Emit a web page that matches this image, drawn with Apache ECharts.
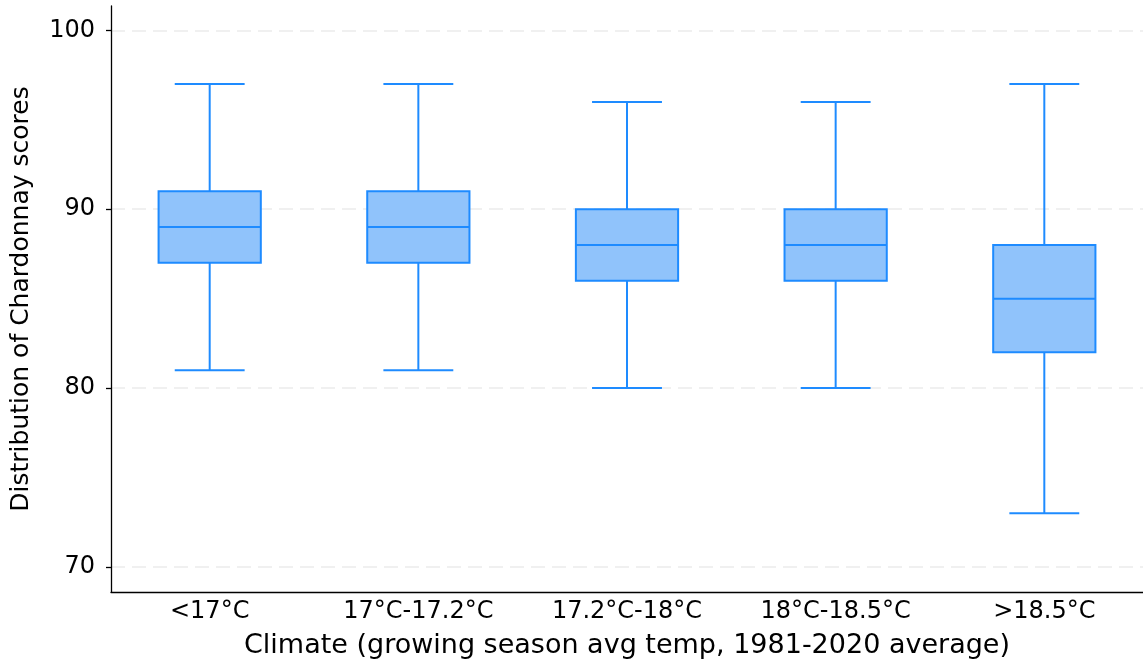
<!DOCTYPE html>
<html>
<head>
<meta charset="utf-8">
<script src="https://cdn.jsdelivr.net/npm/echarts@6/dist/echarts.min.js"></script>
<style>
  html, body { margin: 0; padding: 0; background: #ffffff; }
  #chart { width: 1143px; height: 665px; }
</style>
</head>
<body>
<div id="chart"></div>
<script>
// Climate bands (growing season average temperature)
const climates = ['<17°C', '17°C-17.2°C', '17.2°C-18°C', '18°C-18.5°C', '>18.5°C'];

// Box plot statistics per climate band
const whiskerLow  = [81, 81, 80, 80, 73];
const quartile1   = [87, 87, 86, 86, 82];
const medians     = [89, 89, 88, 88, 85];
const quartile3   = [91, 91, 90, 90, 88];
const whiskerHigh = [97, 97, 96, 96, 97];

// Score axis tick values
const scoreTicks = [70, 80, 90, 100];

const boxData = climates.map((c, i) => [i, whiskerLow[i], quartile1[i], medians[i], quartile3[i], whiskerHigh[i]]);

const STROKE = '#1e8bff';
const FILL = '#90c3fb';
const BOX_WIDTH = 0.49;
const CAP_WIDTH = 0.335;

function renderBox(params, api) {
  const i = api.value(0);
  const lo = api.coord([i, api.value(1)]);
  const q1 = api.coord([i, api.value(2)]);
  const md = api.coord([i, api.value(3)]);
  const q3 = api.coord([i, api.value(4)]);
  const hi = api.coord([i, api.value(5)]);
  const bw = api.size([BOX_WIDTH, 0])[0];
  const cw = api.size([CAP_WIDTH, 0])[0];
  const cx = lo[0];
  const lineStyle = { stroke: STROKE, lineWidth: 2, fill: null };
  return {
    type: 'group',
    children: [
      { type: 'line', shape: { x1: cx, y1: q1[1], x2: cx, y2: lo[1] }, style: lineStyle },
      { type: 'line', shape: { x1: cx, y1: q3[1], x2: cx, y2: hi[1] }, style: lineStyle },
      { type: 'line', shape: { x1: cx - cw / 2, y1: lo[1], x2: cx + cw / 2, y2: lo[1] }, style: lineStyle },
      { type: 'line', shape: { x1: cx - cw / 2, y1: hi[1], x2: cx + cw / 2, y2: hi[1] }, style: lineStyle },
      { type: 'rect', shape: { x: cx - bw / 2, y: q3[1], width: bw, height: q1[1] - q3[1] },
        style: { fill: FILL, stroke: STROKE, lineWidth: 2 } },
      { type: 'line', shape: { x1: cx - bw / 2, y1: md[1], x2: cx + bw / 2, y2: md[1] }, style: lineStyle }
    ]
  };
}

const chart = echarts.init(document.getElementById('chart'), null, { renderer: 'canvas' });

chart.setOption({
  animation: false,
  backgroundColor: '#ffffff',
  textStyle: { fontFamily: 'DejaVu Sans', color: '#000' },
  grid: { left: 111, right: 0, top: 6, bottom: 73, containLabel: false },
  xAxis: {
    type: 'value',
    min: -0.473,
    max: 4.473,
    name: 'Climate (growing season avg temp, 1981-2020 average)',
    nameLocation: 'middle',
    nameGap: 40,
    nameTextStyle: { fontSize: 27, color: '#000', fontFamily: 'DejaVu Sans' },
    axisLine: { show: true, onZero: false, lineStyle: { color: '#000', width: 1.3 } },
    axisTick: { show: false },
    splitLine: { show: false },
    axisLabel: {
      customValues: climates.map((c, i) => i),
      formatter: v => climates[Math.round(v)],
      fontSize: 24,
      color: '#000',
      margin: 8,
      fontFamily: 'DejaVu Sans'
    }
  },
  yAxis: {
    type: 'value',
    min: 68.6,
    max: 101.36,
    name: 'Distribution of Chardonnay scores',
    nameLocation: 'middle',
    nameRotate: 90,
    nameGap: 77,
    nameTextStyle: { fontSize: 25, color: '#000', fontFamily: 'DejaVu Sans' },
    axisLine: { show: true, onZero: false, lineStyle: { color: '#000', width: 1.3 } },
    axisTick: { show: true, customValues: scoreTicks, length: 5, inside: false, lineStyle: { color: '#000', width: 1.3 } },
    axisLabel: { customValues: scoreTicks, fontSize: 24, color: '#000', margin: 16, fontFamily: 'DejaVu Sans' },
    splitLine: { show: true, customValues: scoreTicks, lineStyle: { color: '#ebebeb', width: 1.5, type: [14, 7] } }
  },
  series: [{
    type: 'custom',
    renderItem: renderBox,
    encode: { x: 0, y: [1, 2, 3, 4, 5] },
    data: boxData,
    clip: false
  }]
});
</script>
</body>
</html>
